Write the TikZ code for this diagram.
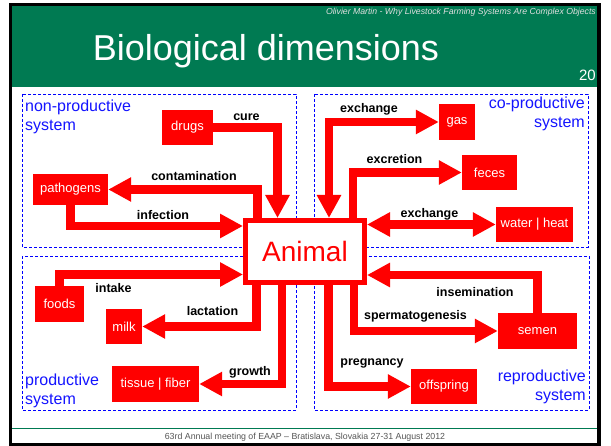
\documentclass[tikz,border=0pt]{standalone}
\usepackage{fontspec}
\setmainfont{Liberation Sans}
\usetikzlibrary{arrows.meta}
\definecolor{slidegreen}{RGB}{0,122,82}
\definecolor{sysblue}{RGB}{20,20,255}
\definecolor{footgray}{RGB}{85,85,85}
\tikzset{bigtip/.tip={Triangle[width=23pt,length=23pt]}}
\begin{document}
\begin{tikzpicture}[x=1pt,y=-1pt,
  flow/.style={draw=red, line width=8.5pt, line join=miter, -bigtip},
  twoway/.style={draw=red, line width=8.5pt, line join=miter, bigtip-bigtip},
  item/.style={fill=red, text=white, font=\fontsize{13}{15}\selectfont, inner sep=0pt},
  lbl/.style={font=\bfseries\fontsize{12.5}{14}\selectfont, text=black, inner sep=0pt, text height=9pt, text depth=2.5pt},
  sysbox/.style={draw=blue, dash pattern=on 3pt off 2pt, line width=0.9pt},
  systxt/.style={text=sysblue, font=\fontsize{16}{19}\selectfont, inner sep=0pt}
]
% page and slide frame
\useasboundingbox (0,0) rectangle (611,446);
\fill[white] (0,0) rectangle (611,446);
\fill[black] (9,3) rectangle (601,446);
\fill[white] (12,6) rectangle (597,443);
\fill[slidegreen] (12,6) rectangle (597,87);
\draw[slidegreen, line width=1pt] (12,429) -- (597,429);

% header texts
\node[anchor=east, text=white!88!black, font=\itshape\fontsize{8.7}{10}\selectfont, inner sep=0pt] (author) at (596,12) {Olivier Martin - Why Livestock Farming Systems Are Complex Objects};
\node[anchor=base, text=white, font=\fontsize{36}{40}\selectfont, inner sep=0pt] (title) at (266,61) {Biological dimensions};
\node[anchor=base east, text=white, font=\fontsize{15}{17}\selectfont, inner sep=0pt] (pageno) at (596,81) {20};
\node[text=footgray, font=\fontsize{8.8}{10}\selectfont, inner sep=0pt] (footer) at (305,437) {63rd Annual meeting of EAAP -- Bratislava, Slovakia 27-31 August 2012};

% the four systems
\draw[sysbox] (22,94) rectangle (296,247);
\draw[sysbox] (314,94) rectangle (588,247);
\draw[sysbox] (22,256) rectangle (296,410);
\draw[sysbox] (314,256) rectangle (589,410);

\node[systxt, anchor=base west] (np1) at (25,112) {non-productive};
\node[systxt, anchor=base west] (np2) at (25,131) {system};
\node[systxt, anchor=base east] (cp1) at (585,109) {co-productive};
\node[systxt, anchor=base east] (cp2) at (585,128) {system};
\node[systxt, anchor=base west] (pr1) at (25,386) {productive};
\node[systxt, anchor=base west] (pr2) at (25,405) {system};
\node[systxt, anchor=base east] (rp1) at (586,382) {reproductive};
\node[systxt, anchor=base east] (rp2) at (586,401) {system};

% central node
\node[draw=red, line width=5pt, fill=white, text=red, minimum width=119pt, minimum height=62pt,
      font=\fontsize{28}{30}\selectfont] (animal) at (305,251.5) {Animal};

% surrounding items
\node[item, minimum width=51pt, minimum height=35pt] (drugs) at (187.5,127.5) {drugs};
\node[item, minimum width=75pt, minimum height=31pt] (pathogens) at (70.5,189.5) {pathogens};
\node[item, minimum width=36pt, minimum height=36pt] (gas) at (457,122) {gas};
\node[item, minimum width=55pt, minimum height=35pt] (feces) at (489.5,172.5) {feces};
\node[item, minimum width=77pt, minimum height=35pt] (water) at (534.5,224.5) {water | heat};
\node[item, minimum width=49pt, minimum height=36pt] (foods) at (59.5,304) {foods};
\node[item, minimum width=36pt, minimum height=35pt] (milk) at (124,326.5) {milk};
\node[item, minimum width=87pt, minimum height=36pt] (tissue) at (155.5,384) {tissue | fiber};
\node[item, minimum width=79pt, minimum height=36pt] (semen) at (537.5,331) {semen};
\node[item, minimum width=66pt, minimum height=35pt] (offspring) at (444,386.5) {offspring};

% flows
\draw[flow] (drugs.east) -| (animal.north -| 277.5,0);
\draw[flow] (animal.north -| 257.5,0) |- (pathogens.east);
\draw[flow] (pathogens.south) |- (animal.west |- 0,226);
\draw[twoway] (animal.north -| 329,0) |- (gas.west);
\draw[flow] (animal.north -| 353,0) |- (feces.west);
\draw[twoway] (animal.east |- water.west) -- (water.west);
\draw[flow] (foods.north) |- (animal.west |- 0,274.5);
\draw[flow] (animal.south -| 256.5,0) |- (milk.east);
\draw[flow] (animal.south -| 282,0) |- (tissue.east);
\draw[flow] (semen.north) |- (animal.east |- 0,275);
\draw[flow] (animal.south -| 354,0) |- (semen.west);
\draw[flow] (animal.south -| 328.5,0) |- (offspring.west);

% flow labels
\node[lbl] (lcure) at (246.5,117) {cure};
\node[lbl] (lcont) at (194,177) {contamination};
\node[lbl] (linf) at (163,216) {infection};
\node[lbl] (lexg) at (369,109) {exchange};
\node[lbl] (lexc) at (394.5,160) {excretion};
\node[lbl] (lexw) at (429.5,214) {exchange};
\node[lbl] (lint) at (113.5,289) {intake};
\node[lbl] (llac) at (212.5,312) {lactation};
\node[lbl] (lgro) at (250,372) {growth};
\node[lbl] (lins) at (475,293) {insemination};
\node[lbl] (lspe) at (415.5,316) {spermatogenesis};
\node[lbl] (lpre) at (372,362) {pregnancy};
\end{tikzpicture}
\end{document}
